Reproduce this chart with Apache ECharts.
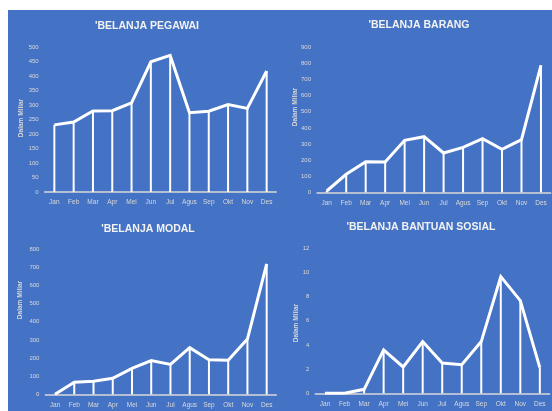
<!DOCTYPE html>
<html>
<head>
<meta charset="utf-8">
<script src="https://cdn.jsdelivr.net/npm/echarts@6/dist/echarts.min.js"></script>
<style>
  html, body { margin: 0; padding: 0; background: #ffffff; }
  #chart { width: 552px; height: 411px; }
</style>
</head>
<body>
<div id="chart"></div>
<script>
// Monthly spending per category (values in billions, "Dalam Miliar")
const months = ['Jan', 'Feb', 'Mar', 'Apr', 'Mei', 'Jun', 'Jul', 'Agus', 'Sep', 'Okt', 'Nov', 'Des'];

const belanjaPegawai = [232, 242, 280, 281, 308, 450, 472, 274, 279, 302, 289, 418];
const belanjaBarang = [8, 112, 190, 188, 323, 345, 244, 279, 333, 267, 327, 788];
const belanjaModal = [0, 66, 72, 88, 143, 186, 165, 257, 191, 188, 305, 719];
const belanjaBantuanSosial = [0, 0, 0.33, 3.59, 2.18, 4.28, 2.51, 2.37, 4.28, 9.66, 7.67, 2.12];

const panelTitles = ["'BELANJA PEGAWAI", "'BELANJA BARANG", "'BELANJA MODAL", "'BELANJA BANTUAN SOSIAL"];
const axisName = 'Dalam Miliar';

// y-axis scales per panel: [max, interval]
const yScales = [[500, 50], [900, 100], [800, 100], [12, 2]];

const seriesData = [belanjaPegawai, belanjaBarang, belanjaModal, belanjaBantuanSosial];

// panel layout
const grids = [
  { left: 44.7, top: 47.3, width: 231.6, height: 144.7 },
  { left: 317, top: 47.3, width: 233.7, height: 145 },
  { left: 45.4, top: 249.3, width: 230.9, height: 145 },
  { left: 315.3, top: 248.3, width: 234.3, height: 145 }
];
const titlePos = [[147, 21], [419, 20], [148, 224], [421, 222]];
const namePos = [[21.7, 118], [295, 107], [20.7, 300], [296.7, 323]];

const FONT = 'Liberation Sans';
const BG = '#4472C4';
const LABEL = '#D9D9D9';

const chart = echarts.init(document.getElementById('chart'), null, { renderer: 'canvas' });

const option = {
  backgroundColor: '#ffffff',
  animation: false,
  graphic: [
    { type: 'rect', shape: { x: 8, y: 10, width: 544, height: 401 }, style: { fill: BG }, z: -10 }
  ].concat(namePos.map(p => ({
    type: 'text',
    x: p[0], y: p[1],
    rotation: Math.PI / 2,
    style: {
      text: axisName, fill: LABEL, font: 'bold 6.5px ' + FONT,
      align: 'center', verticalAlign: 'middle'
    },
    z: 10
  }))),
  title: panelTitles.map((t, i) => ({
    text: t,
    left: titlePos[i][0],
    top: titlePos[i][1],
    textAlign: 'center',
    padding: 0,
    textStyle: { color: '#F2F2F2', fontFamily: FONT, fontWeight: 'bold', fontSize: 10.5 }
  })),
  grid: grids.map(g => Object.assign({ containLabel: false }, g)),
  xAxis: grids.map((g, i) => ({
    type: 'category',
    gridIndex: i,
    data: months,
    boundaryGap: true,
    axisLine: { show: true, lineStyle: { color: LABEL, width: 1.5 } },
    axisTick: { show: false },
    axisLabel: { color: LABEL, fontFamily: FONT, fontSize: 6.5, margin: 7, interval: 0 },
    splitLine: { show: false }
  })),
  yAxis: grids.map((g, i) => ({
    type: 'value',
    gridIndex: i,
    min: 0,
    max: yScales[i][0],
    interval: yScales[i][1],
    axisLine: { show: false },
    axisTick: { show: false },
    splitLine: { show: false },
    axisLabel: { color: LABEL, fontFamily: FONT, fontSize: 6, margin: 6 }
  })),
  series: []
};

seriesData.forEach((data, i) => {
  // vertical drop lines from each point down to the axis
  option.series.push({
    type: 'bar',
    xAxisIndex: i,
    yAxisIndex: i,
    data: data,
    barWidth: 2,
    itemStyle: { color: '#ffffff' },
    z: 2
  });
  option.series.push({
    type: 'line',
    xAxisIndex: i,
    yAxisIndex: i,
    data: data,
    symbol: 'none',
    lineStyle: { color: '#ffffff', width: 3, join: 'miter' },
    z: 3
  });
});

chart.setOption(option);
</script>
</body>
</html>
